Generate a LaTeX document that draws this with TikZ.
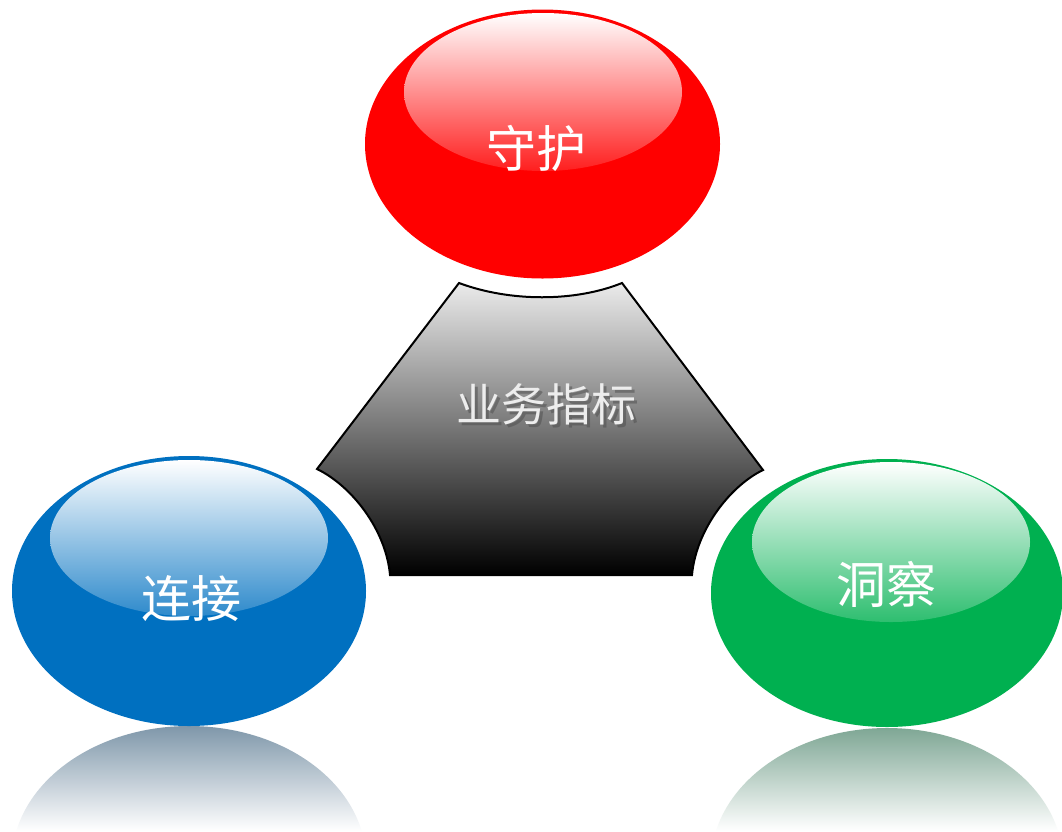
\documentclass[tikz,border=0pt]{standalone}
\usepackage{fontspec}
\newfontfamily\cjk{Noto Sans CJK SC}
\definecolor{bred}{HTML}{FF0000}
\definecolor{bblue}{HTML}{0070C0}
\definecolor{bgreen}{HTML}{00B050}
\definecolor{reflblue}{HTML}{7F97AA}
\definecolor{reflgreen}{HTML}{7FA795}
\tikzset{
  balltxt/.style={font=\cjk\fontsize{50}{56}\selectfont, text=white, inner sep=0pt},
  centertxt/.style={font=\cjk\fontsize{45}{50}\selectfont, inner sep=0pt},
  hub/.style={draw=black, line width=2pt, line join=miter, top color=black!8, middle color=black!52, bottom color=black},
}
\begin{document}
\begin{tikzpicture}[x=1pt,y=-1pt]
\useasboundingbox (0,0) rectangle (1062,831);
\fill[white] (0,0) rectangle (1062,831);

% reflections
\begin{scope}
  \clip (189,861) ellipse [x radius=177pt, y radius=135pt];
  \shade[top color=reflblue, bottom color=white] (0,726) rectangle (380,831);
\end{scope}
\begin{scope}
  \clip (887,863) ellipse [x radius=176pt, y radius=135pt];
  \shade[top color=reflgreen, bottom color=white] (700,728) rectangle (1062,831);
\end{scope}

% central hub
\path[hub] (459,283) .. controls (510,302) and (575,302) .. (622,283)
  -- (763,470) .. controls (730,486) and (696,530) .. (692,575)
  -- (390,575) .. controls (386,530) and (352,486) .. (317,469)
  -- cycle;
\node[centertxt, text=black!70, opacity=0.5] (hubshadow) at (549,407) {业务指标};
\node[centertxt, text=white!93!black] (hubtxt) at (546,404) {业务指标};

% red ball
\fill[bred] (542.5,144) ellipse [x radius=177.5pt, y radius=134.5pt];
\shade[top color=white, bottom color=bred!88!white] (543,92) ellipse [x radius=139pt, y radius=79pt];
\node[balltxt] (shouhu) at (536,148) {守护};

% blue ball
\fill[bblue] (189,591) ellipse [x radius=177pt, y radius=135pt];
\shade[top color=white, bottom color=bblue!82!white] (189,538) ellipse [x radius=139pt, y radius=78pt];
\node[balltxt] (lianjie) at (191,599) {连接};

% green ball
\fill[bgreen] (887,593) ellipse [x radius=176pt, y radius=134pt];
\shade[top color=white, bottom color=bgreen!82!white] (891,542) ellipse [x radius=139pt, y radius=80pt];
\node[balltxt] (dongcha) at (886,584) {洞察};
\end{tikzpicture}
\end{document}
